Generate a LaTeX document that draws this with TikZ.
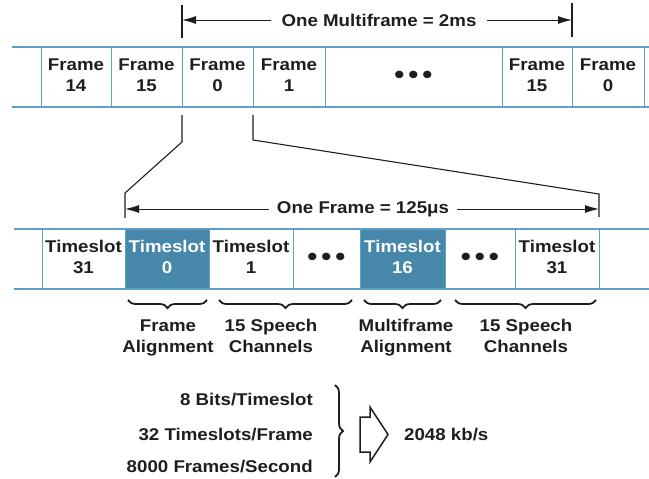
\documentclass[tikz,border=0pt]{standalone}
\usepackage{fontspec}
\setmainfont[FakeStretch=1.1]{Liberation Sans}
\usetikzlibrary{arrows.meta,decorations.pathreplacing}
\definecolor{stripblue}{RGB}{95,160,200}
\definecolor{slotblue}{RGB}{70,135,170}
\definecolor{inkgray}{RGB}{30,30,30}
\newcommand{\tripledot}{{\fontsize{26}{21}\selectfont •\hspace{4pt}•\hspace{4pt}•}}

\begin{document}
\begin{tikzpicture}[x=1pt,y=-1pt,
        font=\fontsize{17}{21}\selectfont\bfseries,
        cell/.style={draw=stripblue, line width=1pt, inner sep=0pt, outer sep=0pt, minimum height=60pt, text=inkgray},
        slot/.style={cell, fill=slotblue, text=white},
        band/.style={stripblue, line width=2.5pt},
        marker/.style={inkgray, line width=1.1pt},
        dimarrow/.style={-{Latex[length=14pt,width=8pt]}, inkgray, line width=1pt},
        curly/.style={decorate, decoration={brace, amplitude=8pt}, inkgray, line width=1.8pt},
        caption/.style={text=inkgray, inner sep=0pt}]
        \useasboundingbox (0,0) rectangle (649,479);
        \renewcommand{\arraystretch}{1} % one line per 21pt

        % Multiframe strip
        \node[cell, minimum width=70pt] (frame14) at (76,77) {
            \begin{tabular}{@{}c@{}}
                Frame \\
                14
            \end{tabular}
        };
        \node[cell, minimum width=71pt] (frame15a) at (146.5,77) {
            \begin{tabular}{@{}c@{}}
                Frame \\
                15
            \end{tabular}
        };
        \node[cell, minimum width=71pt] (frame0a) at (217.5,77) {
            \begin{tabular}{@{}c@{}}
                Frame \\
                0
            \end{tabular}
        };
        \node[cell, minimum width=72pt] (frame1) at (289,77) {
            \begin{tabular}{@{}c@{}}
                Frame \\
                1
            \end{tabular}
        };
        \node[cell, minimum width=177pt] (framedots) at (413.5,77) {\tripledot};
        \node[cell, minimum width=70pt] (frame15b) at (537,77) {
            \begin{tabular}{@{}c@{}}
                Frame \\
                15
            \end{tabular}
        };
        \node[cell, minimum width=72pt] (frame0b) at (608,77) {
            \begin{tabular}{@{}c@{}}
                Frame \\
                0
            \end{tabular}
        };
        \draw[band] (12,47) -- (649,47);
        \draw[band] (12,107) -- (649,107);

        % Multiframe length
        \draw[marker] (182,5) -- (182,38);
        \draw[marker] (572,3) -- (572,37);
        \coordinate (mfleft) at (182,20);
        \coordinate (mfright) at (572,20);
        \node[caption, inner xsep=10pt] (mflabel) at (379,20) {One Multiframe = 2ms};
        \draw[dimarrow] (mflabel) -- (mfleft);
        \draw[dimarrow] (mflabel) -- (mfright);

        % Zoom lines
        \draw[marker] (182,115) -- (182,142) -- (125,193) -- (125,218);
        \draw[marker] (253,115) -- (253,140) -- (599,194) -- (599,217);

        % Frame strip
        \node[cell, minimum width=83pt] (slot31a) at (83.5,259) {
            \begin{tabular}{@{}c@{}}
                Timeslot \\
                31
            \end{tabular}
        };
        \node[slot, minimum width=84pt] (slot0) at (167,259) {
            \begin{tabular}{@{}c@{}}
                Timeslot \\
                0
            \end{tabular}
        };
        \node[cell, minimum width=84pt] (slot1) at (251,259) {
            \begin{tabular}{@{}c@{}}
                Timeslot \\
                1
            \end{tabular}
        };
        \node[cell, minimum width=67pt] (slotdotsa) at (326.5,259) {\tripledot};
        \node[slot, minimum width=85pt] (slot16) at (402.5,259) {
            \begin{tabular}{@{}c@{}}
                Timeslot \\
                16
            \end{tabular}
        };
        \node[cell, minimum width=70pt] (slotdotsb) at (480,259) {\tripledot};
        \node[cell, minimum width=84pt] (slot31b) at (557,259) {
            \begin{tabular}{@{}c@{}}
                Timeslot \\
                31
            \end{tabular}
        };
        \draw[band] (14,229) -- (649,229);
        \draw[band] (14,289) -- (649,289);

        % Frame length
        \coordinate (fleft) at (125,209);
        \coordinate (fright) at (599,209);
        \node[caption, inner xsep=8pt] (flabel) at (363,209) {One Frame = 125μs};
        \draw[dimarrow] (flabel) -- (fleft);
        \draw[dimarrow] (flabel) -- (fright);

        % Braces and captions
        \draw[curly] (207,300) -- (128,300);
        \draw[curly] (352,300) -- (219,300);
        \draw[curly] (441,300) -- (364,300);
        \draw[curly] (596,300) -- (455,300);
        \node[caption] (capframe) at (168,338) {
            \begin{tabular}{@{}c@{}}
                Frame \\
                Alignment
            \end{tabular}
        };
        \node[caption] (capspeecha) at (271,338) {
            \begin{tabular}{@{}c@{}}
                15 Speech \\
                Channels
            \end{tabular}
        };
        \node[caption] (capmulti) at (406,338) {
            \begin{tabular}{@{}c@{}}
                Multiframe \\
                Alignment
            \end{tabular}
        };
        \node[caption] (capspeechb) at (526,338) {
            \begin{tabular}{@{}c@{}}
                15 Speech \\
                Channels
            \end{tabular}
        };

        % Bit rate
        \node[caption, anchor=east] (bits) at (313,400) {8 Bits/Timeslot};
        \node[caption, anchor=east] (slots) at (313,435) {32 Timeslots/Frame};
        \node[caption, anchor=east] (frames) at (313,467) {8000 Frames/Second};
        \draw[curly] (335,385) -- (335,477);
        \draw[inkgray, line width=1.5pt] (360,417) -- (370,417) -- (370,407) -- (388,434.5)
            -- (370,462) -- (370,452) -- (360,452) -- cycle;
        \node[caption, anchor=west] (rate) at (404,435) {2048 kb/s};

    \end{tikzpicture}
\end{document}
